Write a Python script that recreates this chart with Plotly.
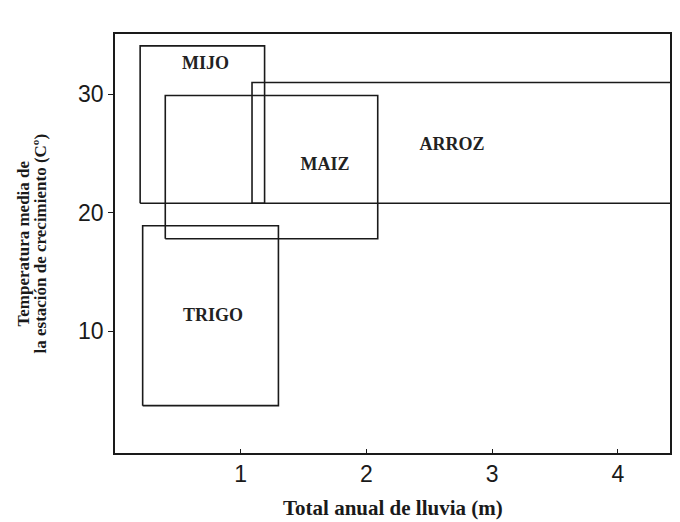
import plotly.graph_objects as go

# climate ranges of cereal crops (rainfall in m, temperature in C)
crops = ["MIJO", "MAIZ", "ARROZ", "TRIGO"]
lluvia_min = [0.2, 0.4, 1.09, 0.22]
lluvia_max = [1.19, 2.09, 4.7, 1.3]
temp_min = [20.8, 17.8, 20.8, 3.7]
temp_max = [34.1, 29.9, 31.0, 18.9]
label_x = [0.72, 1.67, 2.68, 0.78]
label_y = [32.5, 24.0, 25.7, 11.2]

x_ticks = [1, 2, 3, 4]
y_ticks = [10, 20, 30]

fig = go.Figure()

for i, crop in enumerate(crops):
    x0, x1 = lluvia_min[i], lluvia_max[i]
    y0, y1 = temp_min[i], temp_max[i]
    fig.add_trace(go.Scatter(
        x=[x0, x1, x1, x0, x0], y=[y0, y0, y1, y1, y0],
        mode="lines", line=dict(color="#1a1a1a", width=1.6),
        hoverinfo="skip", showlegend=False))

fig.add_trace(go.Scatter(
    x=label_x, y=label_y, text=["<b>%s</b>" % c for c in crops], mode="text",
    textfont=dict(family="Liberation Serif", size=18, color="#222222"),
    showlegend=False))

# axis titles as annotations so the line spacing can be set by hand
title_font = dict(family="Liberation Serif", color="#1a1a1a")
fig.add_annotation(text="<b>Total anual de lluvia (m)</b>", xref="paper", yref="paper",
                   x=0.5, y=0, yshift=-55, xanchor="center", yanchor="middle",
                   showarrow=False, borderpad=0, font=dict(size=21, **title_font))
fig.add_annotation(text="<b>Temperatura media de</b>", xref="paper", yref="paper",
                   x=0, y=0.5, xshift=-92, xanchor="center", yanchor="middle",
                   textangle=-90, showarrow=False, font=dict(size=17, **title_font))
fig.add_annotation(text="<b>la estación de crecimiento (Cº)</b>", xref="paper", yref="paper",
                   x=0, y=0.5, xshift=-75, xanchor="center", yanchor="middle",
                   textangle=-90, showarrow=False, font=dict(size=17, **title_font))

fig.update_layout(
    width=672, height=514,
    margin=dict(l=107, r=10, t=26, b=69),
    paper_bgcolor="white", plot_bgcolor="white",
    xaxis=dict(
        range=[0, 4.415], tickvals=x_ticks, ticks="inside", ticklen=4,
        tickcolor="#1a1a1a", showgrid=False, zeroline=False, automargin=False,
        showline=True, mirror=True, linecolor="#1a1a1a", linewidth=1.6,
        tickfont=dict(family="Liberation Sans", size=23, color="#1a1a1a")),
    yaxis=dict(
        range=[-0.3, 35.1], tickvals=y_ticks, ticks="outside", ticklen=5,
        tickcolor="#1a1a1a", showgrid=False, zeroline=False, automargin=False,
        showline=True, mirror=True, linecolor="#1a1a1a", linewidth=1.6,
        tickfont=dict(family="Liberation Sans", size=23, color="#1a1a1a")),
)

fig.write_html("out.html")
